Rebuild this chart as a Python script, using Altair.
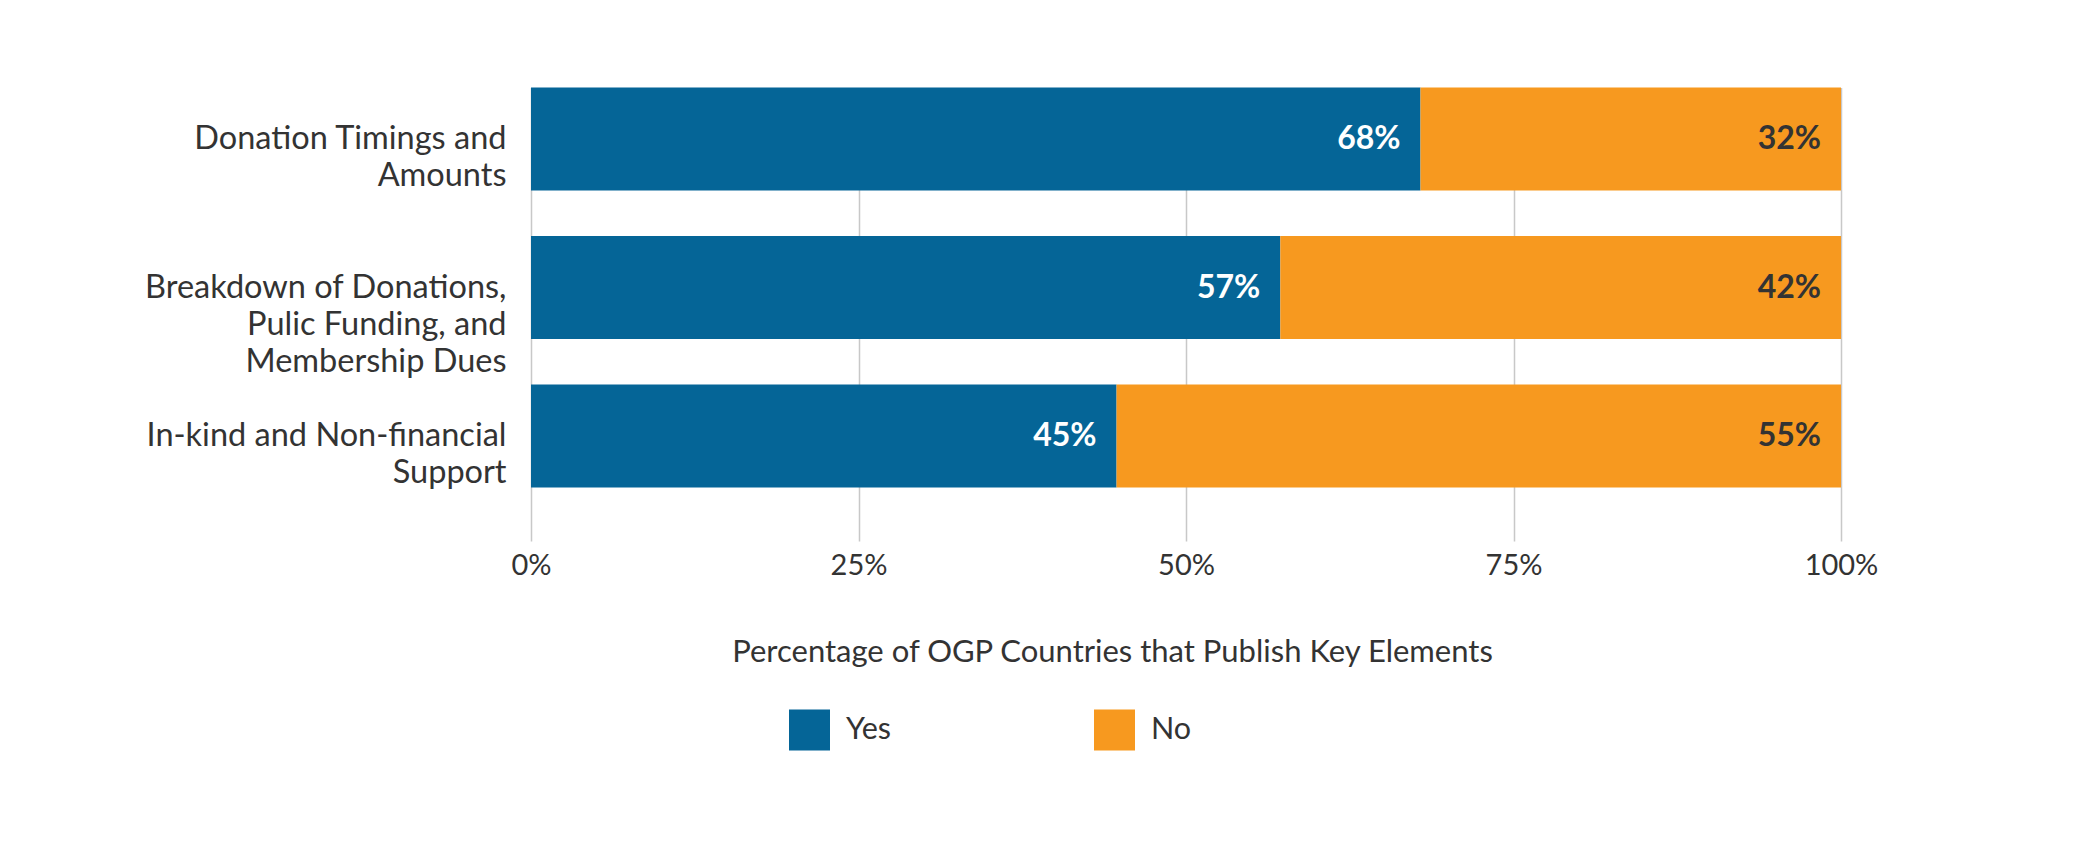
import altair as alt
import pandas as pd

categories = [
    "Donation Timings and|Amounts",
    "Breakdown of Donations,|Pulic Funding, and|Membership Dues",
    "In-kind and Non-financial|Support",
]
yes_vals = [67.9, 57.2, 44.7]
no_vals = [32.1, 42.8, 55.3]
yes_labels = ["68%", "57%", "45%"]
no_labels = ["32%", "42%", "55%"]
series = ["Yes", "No"]
colors = ["#056597", "#F7991F"]
x_ticks = [0, 25, 50, 75, 100]

rows = []
for c, y, n, yl, nl in zip(categories, yes_vals, no_vals, yes_labels, no_labels):
    rows.append({"cat": c, "series": "Yes", "start": 0, "end": y, "label": yl,
                 "lcolor": "white"})
    rows.append({"cat": c, "series": "No", "start": y, "end": y + n, "label": nl,
                 "lcolor": "dark"})
df = pd.DataFrame(rows)

FONT = "Lato"
TXT = "#333333"

y_enc = alt.Y(
    "cat:N",
    sort=categories,
    scale=alt.Scale(paddingInner=0.307, paddingOuter=0.18, align=0),
    axis=alt.Axis(
        title=None, domain=False, ticks=False, grid=False,
        labelExpr="split(datum.label, '|')",
        labelAlign="right", labelBaseline="middle",
        labelPadding=25, labelFontSize=32.5, labelColor=TXT,
        labelLineHeight=37, labelLimit=600, labelFont=FONT,
    ),
)

x_enc = alt.X(
    "start:Q",
    scale=alt.Scale(domain=[0, 100], nice=False),
    axis=alt.Axis(
        values=x_ticks, labelExpr="datum.value + '%'",
        grid=True, gridColor="#c8c8c8", gridWidth=1.5,
        domain=False, ticks=False, tickSize=0, labelFlush=False,
        labelPadding=10, labelFontSize=29, labelColor=TXT, labelFont=FONT,
        title="Percentage of OGP Countries that Publish Key Elements",
        titleFontSize=31, titleFontWeight="normal", titleColor=TXT,
        titleFont=FONT, titleX=581, titleY=111, titleBaseline="middle",
        titleAlign="center",
    ),
)

bars = alt.Chart(df).mark_bar().encode(
    x=x_enc,
    x2="end:Q",
    y=y_enc,
    color=alt.Color(
        "series:N",
        scale=alt.Scale(domain=series, range=colors),
        sort=series,
        legend=alt.Legend(
            title=None, orient="none", legendX=258, legendY=622,
            direction="horizontal", symbolType="square", symbolSize=1681,
            symbolStrokeWidth=0, labelFontSize=30.5, labelColor=TXT,
            labelFont=FONT, labelOffset=16, columnPadding=202,
            gridAlign="all", padding=0,
        ),
    ),
)

labels = alt.Chart(df).mark_text(
    align="right", baseline="middle", dx=-20, fontSize=32,
    fontWeight="bold", font=FONT,
).encode(
    x=alt.X("end:Q"),
    y=alt.Y("cat:N", sort=categories),
    text="label:N",
    color=alt.Color(
        "lcolor:N",
        scale=alt.Scale(domain=["white", "dark"], range=["#ffffff", "#333333"]),
        legend=None,
    ),
)

chart = (
    alt.layer(bars, labels)
    .resolve_scale(color="independent")
    .properties(
        width=1310, height=453.5,
        autosize=alt.AutoSizeParams(type="none"),
        padding={"left": 523, "top": 79.5, "right": 200, "bottom": 260},
    )
    .configure(font=FONT)
    .configure_view(stroke=None)
)

chart.save("out.html", embed_options={"renderer": "svg", "actions": False})
